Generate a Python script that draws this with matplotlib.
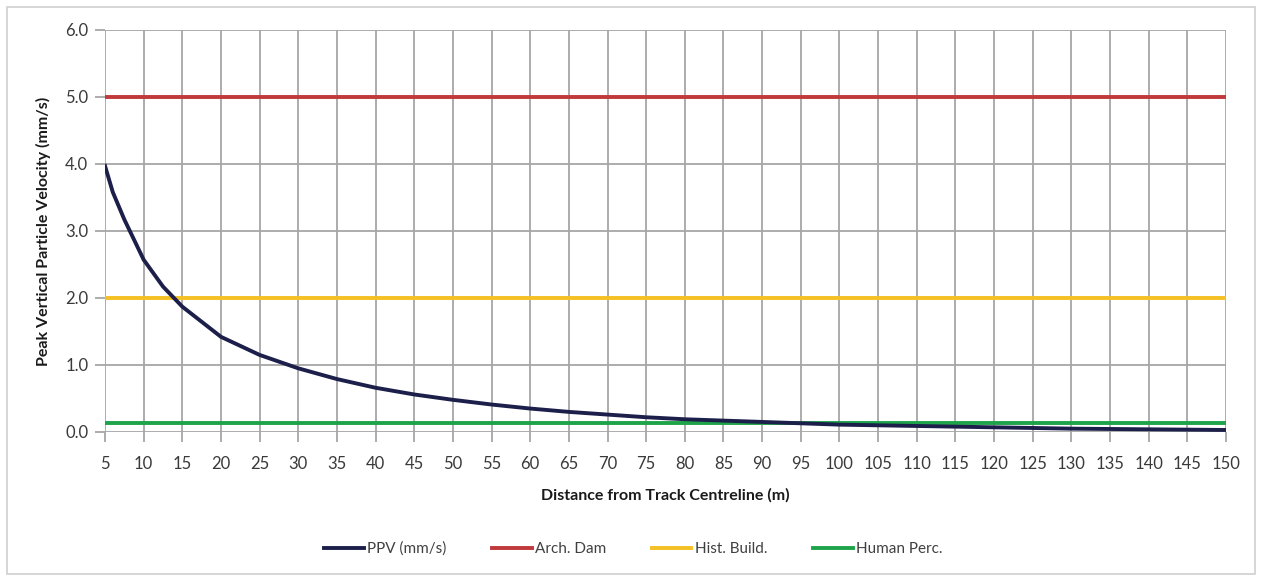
import matplotlib.pyplot as plt
from matplotlib.patches import Rectangle

# Distance from track centreline (m) and predicted peak vertical particle velocity (mm/s)
distance = [5, 6, 7.5, 10, 12.5, 15, 20, 25, 30, 35, 40, 45, 50, 55, 60, 65, 70, 75,
            80, 85, 90, 95, 100, 105, 110, 115, 120, 125, 130, 135, 140, 145, 150]
ppv = [3.97, 3.58, 3.17, 2.57, 2.17, 1.87, 1.42, 1.15, 0.95, 0.79, 0.66, 0.56, 0.48,
       0.41, 0.35, 0.30, 0.26, 0.22, 0.19, 0.17, 0.15, 0.13, 0.11, 0.10, 0.09, 0.08,
       0.07, 0.06, 0.05, 0.045, 0.04, 0.035, 0.03]

# Threshold criteria (mm/s)
arch_dam = 5.0
hist_build = 2.0
human_perc = 0.14

x_ticks = list(range(5, 151, 5))
y_ticks = [0, 1, 2, 3, 4, 5, 6]

plt.rcParams['font.family'] = ['Lato', 'DejaVu Sans']

fig = plt.figure(figsize=(12.61, 5.76), dpi=100)
ax = fig.add_axes([0.0833, 0.25, 0.8889, 0.698])

grid_col = '#a6a6a6'
for xt in x_ticks:
    ax.axvline(xt, color=grid_col, lw=1.3, zorder=1)
for yt in y_ticks:
    ax.axhline(yt, color=grid_col, lw=1.3, zorder=1)

ax.plot(distance, ppv, color='#1c1f4a', lw=2.8, label='PPV (mm/s)', zorder=4,
        solid_joinstyle='round')
ax.plot([distance[0], distance[-1]], [arch_dam] * 2, color='#c0393b', lw=2.8,
        label='Arch. Dam', zorder=3)
ax.plot([distance[0], distance[-1]], [hist_build] * 2, color='#f5c023', lw=2.8,
        label='Hist. Build.', zorder=3)
ax.plot([distance[0], distance[-1]], [human_perc] * 2, color='#1fa34a', lw=2.8,
        label='Human Perc.', zorder=3)

ax.set_xlim(5, 150)
ax.set_ylim(0, 6)
ax.set_xticks(x_ticks)
ax.set_yticks(y_ticks)
ax.set_yticklabels([f'{v:.1f}' for v in y_ticks])
for s in ax.spines.values():
    s.set_visible(False)
ax.tick_params(axis='both', colors=grid_col, labelcolor='#3a3a3a', labelsize=12,
               length=7, width=1.3)
ax.tick_params(axis='x', pad=10)
ax.tick_params(axis='y', pad=5)

ax.set_xlabel('Distance from Track Centreline (m)', fontsize=11.5, fontweight='bold',
              color='#1a1a1a', labelpad=12)
ax.set_ylabel('Peak Vertical Particle Velocity (mm/s)', fontsize=11.5, fontweight='bold',
              color='#1a1a1a', labelpad=10)

leg = fig.legend(loc='center', bbox_to_anchor=(0.502, 0.047), ncol=4, frameon=False,
                 fontsize=11, handlelength=2.6, handletextpad=0.2, columnspacing=3.0)
for t in leg.get_texts():
    t.set_color('#404040')

# light frame round the whole chart
fig.patches.append(Rectangle((0.0055, 0.004), 0.99, 0.984, transform=fig.transFigure,
                             fill=False, edgecolor='#d0d0d0', lw=1.2))

fig.savefig('out.png', dpi=100, facecolor='white')
